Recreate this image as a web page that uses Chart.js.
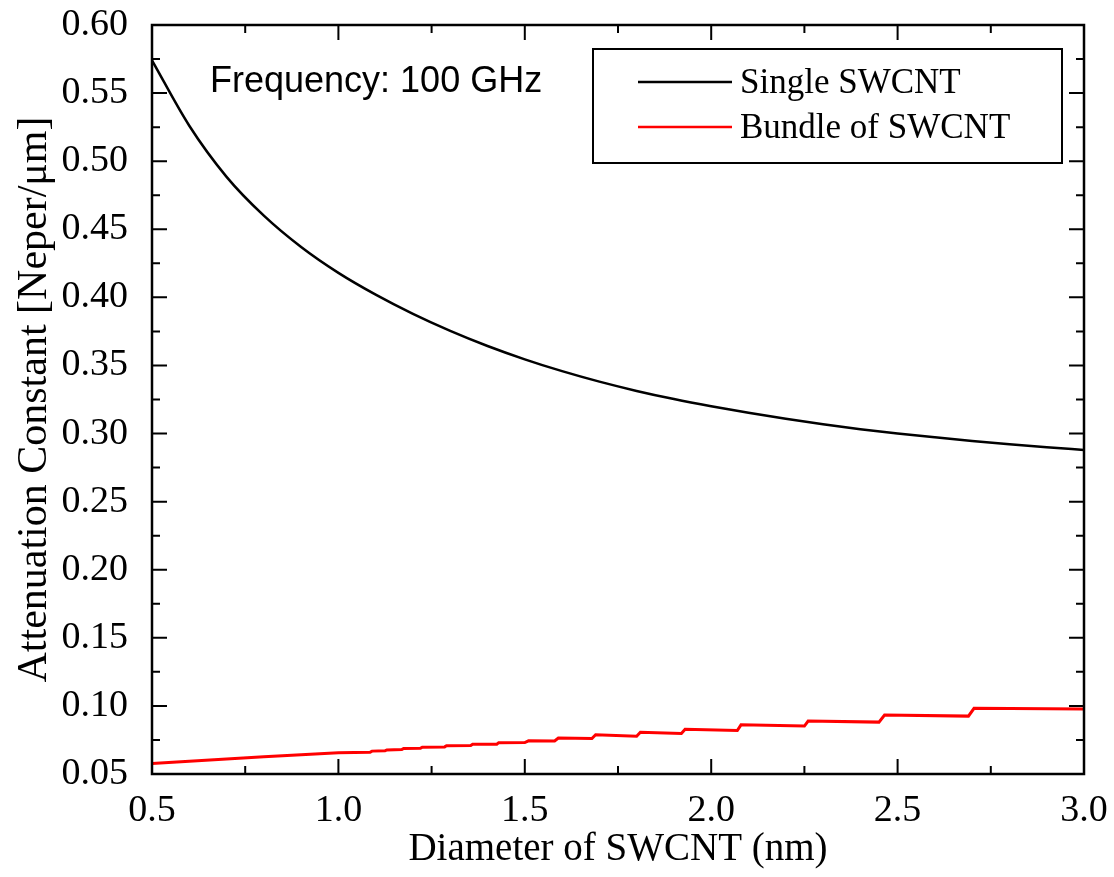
<!DOCTYPE html>
<html>
<head>
<meta charset="utf-8">
<script src="https://cdn.jsdelivr.net/npm/chart.js@4.4.0/dist/chart.umd.min.js"></script>
<style>
  body { margin: 0; background: #fff; }
</style>
</head>
<body>
<canvas id="chart" width="1114" height="877"></canvas>
<script>
// values
const singleD = [0.5, 0.6, 0.7, 0.8, 0.9, 1.0, 1.1, 1.2, 1.3, 1.4, 1.5, 1.6, 1.7, 1.8, 1.9,
  2.0, 2.1, 2.2, 2.3, 2.4, 2.5, 2.6, 2.7, 2.8, 2.9, 3.0];
const singleAtt = [0.5740, 0.5260, 0.4885, 0.4600, 0.4370, 0.4180, 0.4020, 0.3879, 0.3754, 0.3643, 0.3545, 0.3458, 0.3381, 0.3313, 0.3253,
  0.3200, 0.3152, 0.3108, 0.3068, 0.3032, 0.3000, 0.2972, 0.2946, 0.2922, 0.2900, 0.2880];

const bundleD = [0.5, 0.6, 0.7, 0.8, 0.9, 1.0, 1.085, 1.09, 1.125, 1.13, 1.17, 1.175, 1.22, 1.225, 1.285, 1.29,
  1.355, 1.36, 1.425, 1.43, 1.50, 1.51, 1.58, 1.59, 1.68, 1.69, 1.80, 1.81, 1.92, 1.93,
  2.07, 2.08, 2.25, 2.26, 2.45, 2.465, 2.69, 2.705, 3.0];
const bundleAtt = [0.0578, 0.0594, 0.0610, 0.0626, 0.0641, 0.0656, 0.0660, 0.0668, 0.0670, 0.0677, 0.0679, 0.0687, 0.0689, 0.0697, 0.0699, 0.0707,
  0.0709, 0.0718, 0.0719, 0.0730, 0.0731, 0.0744, 0.0742, 0.0764, 0.0760, 0.0788, 0.0777, 0.0806, 0.0797, 0.0828,
  0.0819, 0.0861, 0.0852, 0.0889, 0.0881, 0.0933, 0.0925, 0.0982, 0.0977];

const seriesNames = ['Single SWCNT', 'Bundle of SWCNT'];
const seriesColors = ['#000000', '#ff0000'];
const noteText = 'Frequency: 100 GHz';
const xRange = [0.5, 3.0];
const yRange = [0.05, 0.60];
const xStep = 0.5;
const yStep = 0.05;

const serif = '"Liberation Serif", "Times New Roman", serif';

function toPoints(xs, ys) {
  return xs.map((x, i) => ({ x: x, y: ys[i] }));
}

// frame, inside ticks on all sides, legend box and note
const framePlugin = {
  id: 'frame',
  afterDatasetsDraw(chart) {
    const ctx = chart.ctx;
    const a = chart.chartArea;
    const xs = chart.scales.x;
    const ys = chart.scales.y;
    ctx.save();
    ctx.strokeStyle = '#000';
    ctx.lineWidth = 2.5;
    ctx.strokeRect(a.left, a.top, a.right - a.left, a.bottom - a.top);

    ctx.lineWidth = 2;
    ctx.beginPath();
    for (let v = xRange[0]; v <= xRange[1] + 1e-9; v += xStep / 2) {
      const px = xs.getPixelForValue(v);
      const major = Math.abs(v / xStep - Math.round(v / xStep)) < 1e-6;
      const len = major ? 15 : 8;
      ctx.moveTo(px, a.bottom); ctx.lineTo(px, a.bottom - len);
      ctx.moveTo(px, a.top); ctx.lineTo(px, a.top + len);
    }
    for (let v = yRange[0]; v <= yRange[1] + 1e-9; v += yStep / 2) {
      const py = ys.getPixelForValue(v);
      const major = Math.abs(v / yStep - Math.round(v / yStep)) < 1e-6;
      const len = major ? 15 : 8;
      ctx.moveTo(a.left, py); ctx.lineTo(a.left + len, py);
      ctx.moveTo(a.right, py); ctx.lineTo(a.right - len, py);
    }
    ctx.stroke();

    // note
    ctx.fillStyle = '#000';
    ctx.font = '36px "Liberation Sans", Arial, sans-serif';
    ctx.textAlign = 'left';
    ctx.textBaseline = 'alphabetic';
    ctx.fillText(noteText, 210, 92);

    // legend
    ctx.lineWidth = 2;
    ctx.strokeRect(593, 49, 469, 114);
    ctx.font = '35px ' + serif;
    ctx.textBaseline = 'middle';
    chart.data.datasets.forEach((ds, i) => {
      const y = 82 + i * 45;
      ctx.strokeStyle = ds.borderColor;
      ctx.lineWidth = 2.5;
      ctx.beginPath();
      ctx.moveTo(638, y); ctx.lineTo(732, y);
      ctx.stroke();
      ctx.fillText(ds.label, 740, y + 2);
    });
    ctx.restore();
  }
};

new Chart(document.getElementById('chart'), {
  type: 'line',
  data: {
    datasets: [
      {
        label: seriesNames[0],
        data: toPoints(singleD, singleAtt),
        borderColor: seriesColors[0],
        borderWidth: 2.5,
        pointRadius: 0,
        cubicInterpolationMode: 'monotone'
      },
      {
        label: seriesNames[1],
        data: toPoints(bundleD, bundleAtt),
        borderColor: seriesColors[1],
        borderWidth: 3,
        pointRadius: 0,
        tension: 0
      }
    ]
  },
  options: {
    responsive: false,
    animation: false,
    devicePixelRatio: 1,
    layout: { padding: { left: 0, right: 30, top: 25, bottom: 0 } },
    plugins: {
      legend: { display: false },
      tooltip: { enabled: false }
    },
    scales: {
      x: {
        type: 'linear',
        min: xRange[0],
        max: xRange[1],
        grid: { display: false },
        border: { display: false },
        ticks: {
          stepSize: xStep,
          color: '#000',
          padding: 6,
          font: { family: serif, size: 38 },
          callback: v => v.toFixed(1)
        },
        title: {
          display: true,
          text: 'Diameter of SWCNT (nm)',
          color: '#000',
          font: { family: serif, size: 39 },
          padding: { top: 0, bottom: 4 }
        },
        afterFit(scale) {
          scale.height = 103;
          scale.paddingLeft = 0;
          scale.paddingRight = 0;
        }
      },
      y: {
        min: yRange[0],
        max: yRange[1],
        grid: { display: false },
        border: { display: false },
        ticks: {
          stepSize: yStep,
          color: '#000',
          padding: 16,
          font: { family: serif, size: 38 },
          callback: v => v.toFixed(2)
        },
        title: {
          display: true,
          text: 'Attenuation Constant [Neper/\u03bcm]',
          color: '#000',
          font: { family: serif, size: 42 },
          padding: { top: 10, bottom: 0 }
        },
        afterFit(scale) {
          scale.width = 152;
          scale.paddingTop = 0;
          scale.paddingBottom = 0;
        }
      }
    }
  },
  plugins: [framePlugin]
});
</script>
</body>
</html>
